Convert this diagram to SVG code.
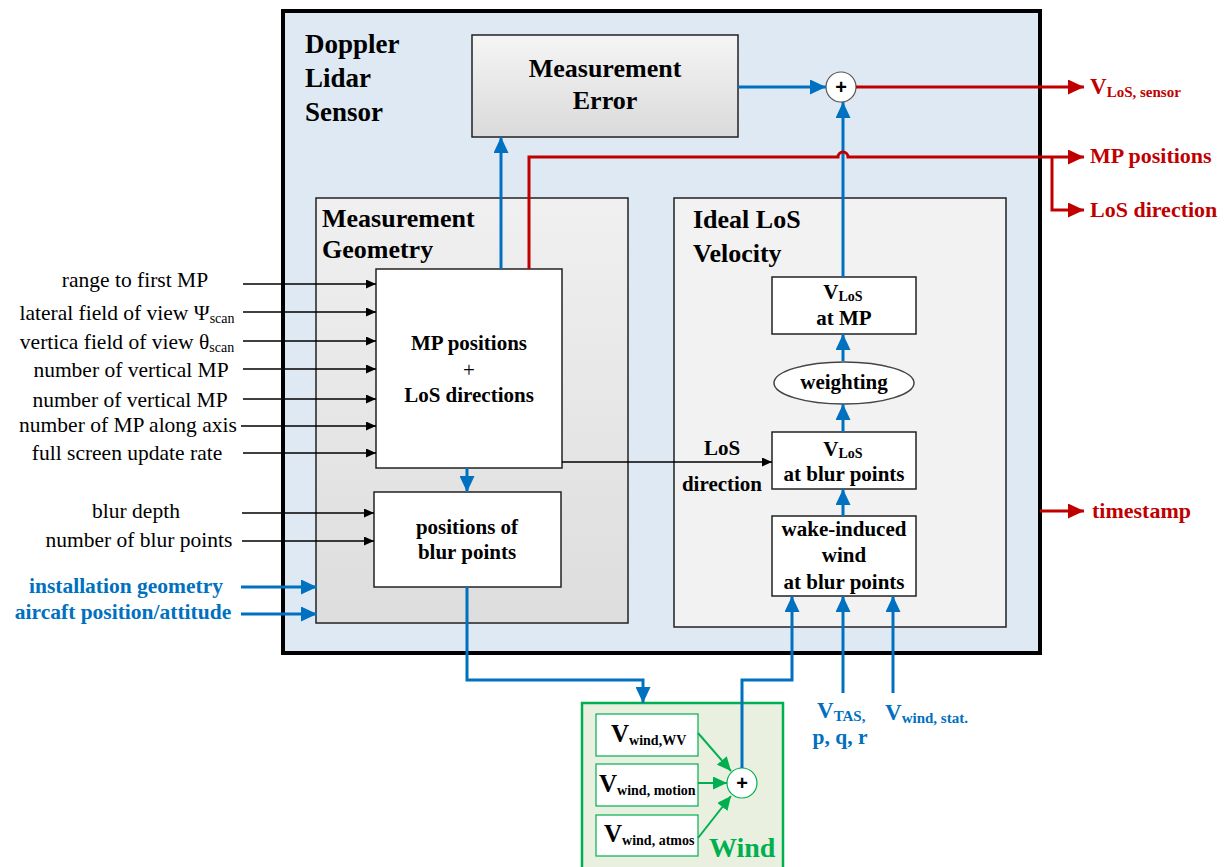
<svg xmlns="http://www.w3.org/2000/svg" width="1226" height="867" viewBox="0 0 1226 867">
  <defs>
    <linearGradient id="gradErr" x1="0" y1="0" x2="0" y2="1">
      <stop offset="0" stop-color="#f5f5f5"/>
      <stop offset="1" stop-color="#dadada"/>
    </linearGradient>
    <linearGradient id="gradGeo" x1="0" y1="0" x2="0" y2="1">
      <stop offset="0" stop-color="#f0f0f0"/>
      <stop offset="1" stop-color="#dddddd"/>
    </linearGradient>
    <marker id="arrK" markerUnits="userSpaceOnUse" markerWidth="10" markerHeight="9" refX="10" refY="4.5" orient="auto">
      <path d="M0,0 L10,4.5 L0,9 z" fill="#000"/>
    </marker>
    <marker id="arrBlue" markerUnits="userSpaceOnUse" markerWidth="16" markerHeight="15" refX="16" refY="7.5" orient="auto">
      <path d="M0,0 L16,7.5 L0,15 z" fill="#0070c0"/>
    </marker>
    <marker id="arrRed" markerUnits="userSpaceOnUse" markerWidth="16" markerHeight="15" refX="16" refY="7.5" orient="auto">
      <path d="M0,0 L16,7.5 L0,15 z" fill="#c00000"/>
    </marker>
    <marker id="arrGreen" markerUnits="userSpaceOnUse" markerWidth="14" markerHeight="13" refX="14" refY="6.5" orient="auto">
      <path d="M0,0 L14,6.5 L0,13 z" fill="#00b050"/>
    </marker>
  </defs>
  <style>
    text { font-family: "Liberation Serif", "Times New Roman", serif; }
    .b { font-weight: bold; }
    .title { font-size: 26px; font-weight: bold; fill: #000; }
    .lbl { font-size: 21.5px; fill: #000; text-anchor: middle; }
    .node { font-size: 21px; font-weight: bold; fill: #000; text-anchor: middle; }
    .blueT { font-size: 21.5px; font-weight: bold; fill: #0070c0; }
    .redT { font-size: 22px; font-weight: bold; fill: #c00000; }
    .sub { font-size: 14px; }
    .box { fill: #fff; stroke: #222; stroke-width: 1.5; }
    .k { stroke: #000; stroke-width: 1.3; fill: none; marker-end: url(#arrK); }
    .bl { stroke: #0070c0; stroke-width: 3; fill: none; marker-end: url(#arrBlue); }
    .rd { stroke: #c00000; stroke-width: 3; fill: none; marker-end: url(#arrRed); }
    .gr { stroke: #00b050; stroke-width: 2; fill: none; marker-end: url(#arrGreen); }
    .gbox { fill: #fff; stroke: #00b050; stroke-width: 1.2; }
    .plus { font-family: "Liberation Sans", Arial, sans-serif; font-size: 20px; font-weight: bold; fill: #000; text-anchor: middle; }
  </style>

  <!-- sensor enclosure -->
  <g id="sensor">
    <rect x="283" y="11" width="757" height="642" fill="#dee9f3" stroke="#000" stroke-width="4"/>
    <text class="title" x="305" y="53" style="font-size:27px">Doppler</text>
    <text class="title" x="305" y="87" style="font-size:27px">Lidar</text>
    <text class="title" x="305" y="121" style="font-size:27px">Sensor</text>
  </g>

  <g id="measurement-error">
    <rect x="472" y="35" width="266" height="102" fill="url(#gradErr)" stroke="#222" stroke-width="1.5"/>
    <text class="title" x="605" y="77" text-anchor="middle">Measurement</text>
    <text class="title" x="605" y="109" text-anchor="middle">Error</text>
  </g>

  <g id="sum-sensor">
    <circle cx="841" cy="87" r="15" fill="#fff" stroke="#555" stroke-width="1.2"/>
    <text class="plus" x="841" y="94">+</text>
  </g>

  <g id="measurement-geometry">
    <rect x="316" y="198" width="312" height="425" fill="url(#gradGeo)" stroke="#222" stroke-width="1.5"/>
    <text class="title" x="322" y="227">Measurement</text>
    <text class="title" x="322" y="258">Geometry</text>
  </g>

  <g id="mp-positions">
    <rect class="box" x="376" y="269" width="186" height="199"/>
    <text class="node" x="469" y="350">MP positions</text>
    <text x="469" y="377" text-anchor="middle" fill="#000" style="font-size:21px">+</text>
    <text class="node" x="469" y="402">LoS directions</text>
  </g>

  <g id="blur-positions">
    <rect class="box" x="374" y="492" width="187" height="95"/>
    <text class="node" x="467" y="534">positions of</text>
    <text class="node" x="467" y="559">blur points</text>
  </g>

  <g id="ideal-los">
    <rect x="674" y="198" width="332" height="429" fill="#f2f2f2" stroke="#222" stroke-width="1.5"/>
    <text class="title" x="693" y="228">Ideal LoS</text>
    <text class="title" x="693" y="262">Velocity</text>
  </g>

  <g id="vlos-mp">
    <rect class="box" x="772" y="277" width="144" height="57"/>
    <text class="node" x="843" y="299">V<tspan class="sub" dy="2">LoS</tspan></text>
    <text class="node" x="844" y="325">at MP</text>
  </g>

  <g id="weighting">
    <ellipse cx="844" cy="383" rx="70" ry="21" fill="#fff" stroke="#444" stroke-width="1.5"/>
    <text class="node" x="844" y="389">weighting</text>
  </g>

  <g id="vlos-blur">
    <rect class="box" x="772" y="432" width="144" height="57"/>
    <text class="node" x="843" y="456">V<tspan class="sub" dy="2">LoS</tspan></text>
    <text class="node" x="844" y="481">at blur points</text>
  </g>

  <g id="wake-wind">
    <rect class="box" x="772" y="516" width="144" height="80"/>
    <text class="node" x="844" y="536">wake-induced</text>
    <text class="node" x="844" y="562">wind</text>
    <text class="node" x="844" y="589">at blur points</text>
  </g>

  <g id="wind">
    <rect x="582" y="703" width="201" height="170" fill="#e9f0e0" stroke="#00b050" stroke-width="2.5"/>
    <rect class="gbox" x="596" y="714" width="102" height="42"/>
    <text class="b" x="611" y="742" style="font-size:25px">V<tspan class="sub" dy="3">wind,WV</tspan></text>
    <rect class="gbox" x="596" y="764" width="102" height="42"/>
    <text class="b" x="599" y="792" style="font-size:25px">V<tspan class="sub" dy="3">wind, motion</tspan></text>
    <rect class="gbox" x="596" y="815" width="102" height="41"/>
    <text class="b" x="604" y="842" style="font-size:25px">V<tspan class="sub" dy="3">wind, atmos</tspan></text>
    <circle cx="742" cy="783" r="15" fill="#fff" stroke="#00b050" stroke-width="1.2"/>
    <text class="plus" x="742" y="790">+</text>
    <text class="b" x="709" y="857" fill="#00b050" style="font-size:28px">Wind</text>
  </g>

  <!-- input and output labels -->
  <g id="labels">
    <text class="lbl" x="135" y="287">range to first MP</text>
    <text class="lbl" x="127" y="320">lateral field of view Ψ<tspan class="sub" dy="3">scan</tspan></text>
    <text class="lbl" x="127" y="349">vertica field of view θ<tspan class="sub" dy="3">scan</tspan></text>
    <text class="lbl" x="131" y="377">number of vertical MP</text>
    <text class="lbl" x="130" y="407">number of vertical MP</text>
    <text class="lbl" x="128" y="432">number of MP along axis</text>
    <text class="lbl" x="127" y="460">full screen update rate</text>
    <text class="lbl" x="136" y="518">blur depth</text>
    <text class="lbl" x="139" y="547">number of blur points</text>
    <text class="blueT" x="126" y="593" text-anchor="middle">installation geometry</text>
    <text class="blueT" x="123" y="619" text-anchor="middle">aircaft position/attitude</text>
    <text class="node" x="722" y="455">LoS</text>
    <text class="node" x="722" y="491">direction</text>
    <text class="redT" x="1090" y="94" style="font-size:23px">V<tspan class="sub" dy="3" style="font-size:15px">LoS, sensor</tspan></text>
    <text class="redT" x="1090" y="163">MP positions</text>
    <text class="redT" x="1090" y="217">LoS direction</text>
    <text class="redT" x="1092" y="518">timestamp</text>
    <text class="blueT" x="817" y="718" style="font-size:23px">V<tspan class="sub" dy="3" style="font-size:15px">TAS,</tspan></text>
    <text class="blueT" x="840" y="744" text-anchor="middle">p, q, r</text>
    <text class="blueT" x="885" y="720" style="font-size:23px">V<tspan class="sub" dy="3" style="font-size:15px">wind, stat.</tspan></text>
  </g>

  <g id="connectors">
    <!-- scan parameters -->
    <path class="k" d="M243,284 H376"/>
    <path class="k" d="M243,312 H376"/>
    <path class="k" d="M243,341 H376"/>
    <path class="k" d="M243,369 H376"/>
    <path class="k" d="M243,399 H376"/>
    <path class="k" d="M241,426 H376"/>
    <path class="k" d="M243,453 H376"/>
    <path class="k" d="M242,513 H374"/>
    <path class="k" d="M242,541 H374"/>
    <path class="k" d="M562,462 H772"/>
    <!-- blue signal flow -->
    <path class="bl" d="M241,587 H317"/>
    <path class="bl" d="M241,614 H317"/>
    <path class="bl" d="M501,269 V137"/>
    <path class="bl" d="M467,468 V492"/>
    <path class="bl" d="M467,587 V680 H643 V703"/>
    <path class="bl" d="M738,87 H826"/>
    <path class="bl" d="M843,277 V102"/>
    <path class="bl" d="M843,361 V334"/>
    <path class="bl" d="M843,432 V404"/>
    <path class="bl" d="M843,516 V489"/>
    <path class="bl" d="M742,768 V680 H792 V596"/>
    <path class="bl" d="M843,693 V596"/>
    <path class="bl" d="M893,693 V596"/>
    <!-- outputs -->
    <path class="rd" d="M856,87 H1084"/>
    <path class="rd" d="M529,269 V157 H838 A5,5 0 0 1 848,157 H1084"/>
    <path class="rd" d="M1052,157 V210 H1084"/>
    <path class="rd" d="M1040,511 H1084"/>
    <!-- wind components -->
    <path class="gr" d="M698,733 L731,771"/>
    <path class="gr" d="M698,783 H727"/>
    <path class="gr" d="M698,838 L731,796"/>
  </g>
</svg>
